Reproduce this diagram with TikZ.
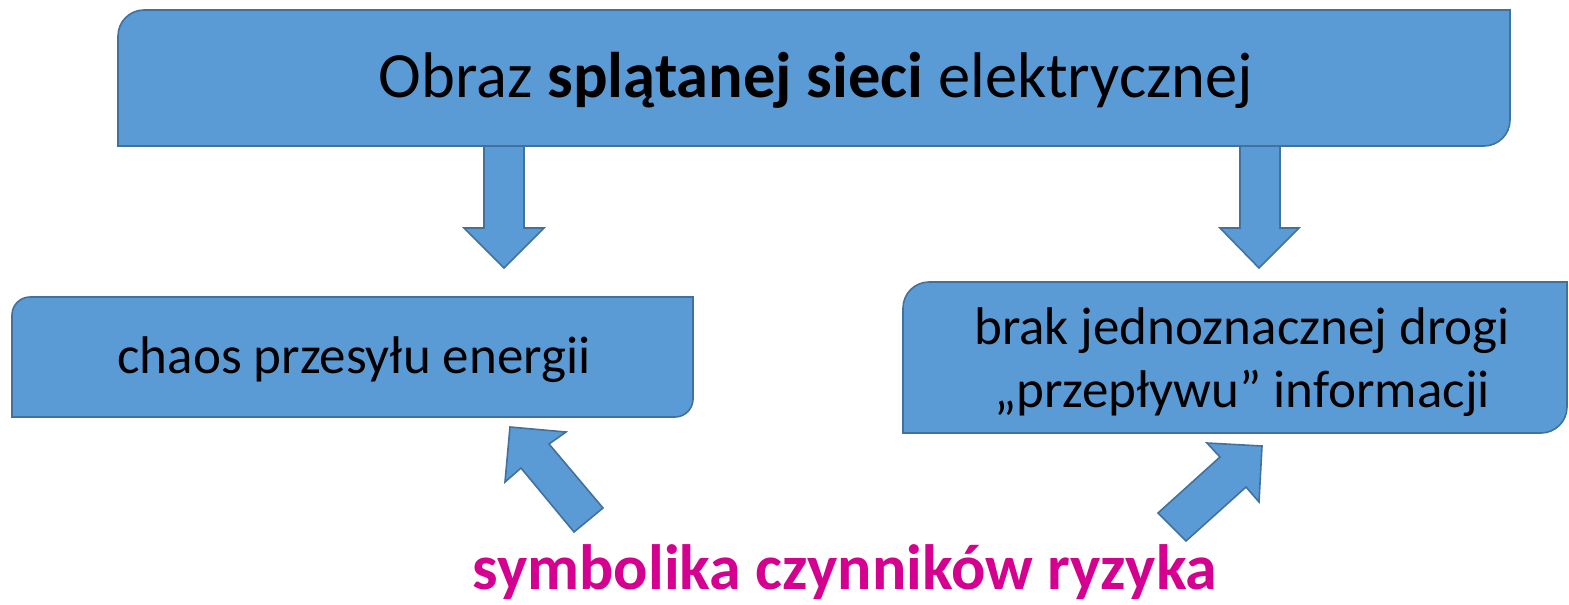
\documentclass[tikz,border=0pt]{standalone}
\usepackage{fontspec}
\setmainfont{Carlito}
\definecolor{boxfill}{HTML}{5B9BD5}
\definecolor{boxline}{HTML}{41719C}
\definecolor{riskmag}{HTML}{D5008F}
\tikzset{
  blk/.style={fill=boxfill,draw=boxline,line width=1.6pt,line join=miter},
  lbl/.style={inner sep=0pt,align=center,text=black},
}
% diagonal rounded box: #1=x1,#2=y1,#3=x2,#4=y2,#5=r
\newcommand{\diagbox}[5]{%
  \draw[blk] (#1,#4) -- (#1,#2+#5) .. controls (#1,#2+0.45*#5) and (#1+0.45*#5,#2) .. (#1+#5,#2)
    -- (#3,#2) -- (#3,#4-#5) .. controls (#3,#4-0.45*#5) and (#3-0.45*#5,#4) .. (#3-#5,#4) -- cycle;}
\begin{document}
\begin{tikzpicture}[x=1pt,y=-1pt]
\useasboundingbox (0,0) rectangle (1569,605);
% boxes
\diagbox{118}{10}{1510}{146}{26}
\diagbox{12}{297}{693}{417}{18}
\diagbox{903}{282}{1567}{433}{26}
\node[lbl,font=\fontsize{64.5}{70}\selectfont] (top) at (816,80) {Obraz \textbf{splątanej sieci} elektrycznej};
\node[lbl,font=\fontsize{53}{60}\selectfont] (left) at (354,360) {chaos przesyłu energii};
\node[lbl,font=\fontsize{53}{63}\selectfont] (right) at (1242,362) {brak jednoznacznej drogi\\„przepływu” informacji};
\node[lbl,text=riskmag,font=\bfseries\fontsize{64}{70}\selectfont] (risk) at (845,572) {symbolika czynników ryzyka};
% down arrows
\draw[blk] (484,146) -- (524,146) -- (524,228) -- (544,228) -- (504,268) -- (464,228) -- (484,228) -- cycle;
\draw[blk] (1240,146) -- (1280,146) -- (1280,228) -- (1299,228) -- (1259,268) -- (1220,228) -- (1240,228) -- cycle;
% diagonal arrows
\draw[blk] (510,427) -- (566,432) -- (549,444) -- (603,508) -- (574,532) -- (521,468) -- (505,482) -- cycle;
\draw[blk] (1262,446) -- (1259,502) -- (1246,487) -- (1186,541) -- (1158,513) -- (1220,457) -- (1207,443) -- cycle;
\end{tikzpicture}
\end{document}
